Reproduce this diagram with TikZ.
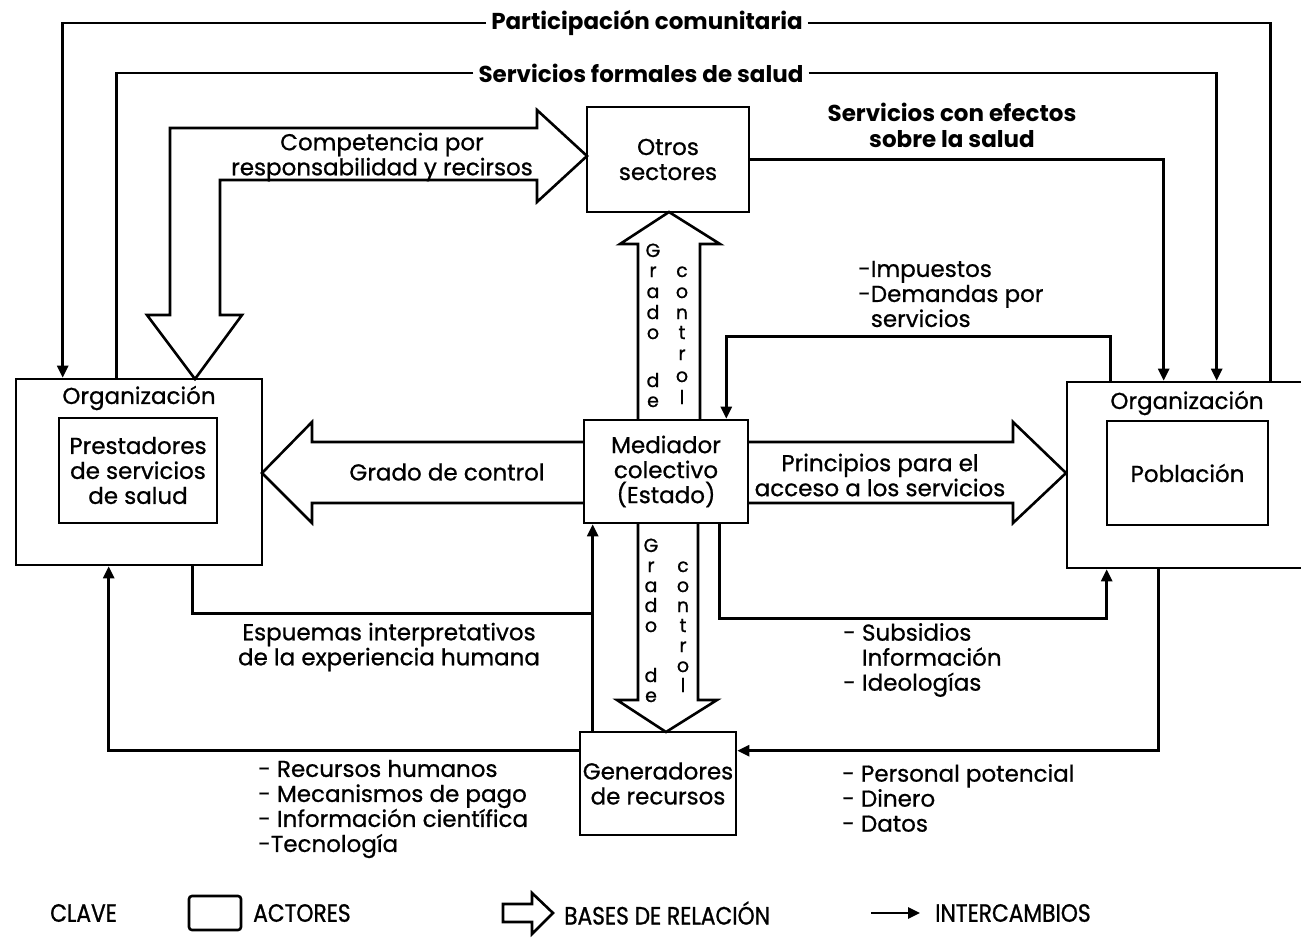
\documentclass[tikz,border=0pt]{standalone}
\usepackage{fontspec}
\setmainfont{Poppins}
\newfontfamily\bodyface{Poppins}[FakeBold=0.8]
\newfontfamily\keyfont{Poppins}[FakeStretch=0.87,FakeBold=1]
\usetikzlibrary{arrows.meta,calc,positioning}

\newcommand{\bodyfont}{\bodyface\fontsize{23}{25}\selectfont}
\newcommand{\headfont}{\fontsize{23}{26}\selectfont\bfseries}

\tikzset{
	actor/.style={draw,line width=2.6pt,rectangle,inner sep=0pt,align=center,font=\bodyfont},
	lbl/.style={inner sep=0pt,align=center,font=\bodyfont},
	letter/.style={inner sep=0pt,anchor=base,font=\bodyface\fontsize{19}{19}\selectfont},
	head/.style={inner xsep=5pt,inner ysep=0pt,font=\headfont,fill=white},
	fat/.style={draw,line width=2.6pt,fill=white,line join=miter},
	link/.style={line width=2.6pt},
	exch/.style={line width=2.6pt,-{Triangle[length=12pt,width=11pt]}},
	keytext/.style={anchor=west,inner sep=0pt,font=\keyfont\fontsize{25}{25}\selectfont},
}

\begin{document}
\begin{tikzpicture}[x=1pt,y=-1pt]
	\useasboundingbox (0,0) rectangle (1301,938);
	
	% Bases de relacion
	\draw[fat] (170,315) -- (147,315) -- (195,379) -- (242,315) -- (220,315) -- (220,180)
		-- (537,180) -- (537,202) -- (587,156) -- (537,110) -- (537,128) -- (170,128) -- cycle;
	\draw[fat] (638,420) -- (638,244) -- (620,244) -- (669,212) -- (720,244) -- (700,244) -- (700,420);
	\draw[fat] (638,523) -- (638,700) -- (617,700) -- (666,732) -- (717,700) -- (698,700) -- (698,523);
	\draw[fat] (584,442) -- (312,442) -- (312,422) -- (262,473) -- (312,523) -- (312,503) -- (584,503);
	\draw[fat] (748,442) -- (1013,442) -- (1013,422) -- (1066,473) -- (1013,523) -- (1013,503) -- (748,503);
	
	% Actores
	\node (orgP) at (139,472) [actor,minimum width=246pt,minimum height=186pt] {};
	\node (orgPtit) at (139,398) [lbl] {Organización};
	\node (prest) at (138,470.5) [actor,minimum width=158pt,minimum height=105pt] {Prestadores\\de servicios\\de salud};
	\node (otros) at (668,159.5) [actor,minimum width=162pt,minimum height=105pt] {Otros\\sectores};
	\node (med) at (666,471.5) [actor,minimum width=164pt,minimum height=103pt,fill=white] {Mediador\\colectivo\\(Estado)};
	\node (gen) at (658,783.5) [actor,minimum width=156pt,minimum height=103pt] {Generadores\\de recursos};
	\node (orgB) at (1188.5,475) [actor,minimum width=243pt,minimum height=186pt] {};
	\node (orgBtit) at (1187,403) [lbl] {Organización};
	\node (pob) at (1187.5,473) [actor,minimum width=161pt,minimum height=104pt] {Población};
	
	% Grado de control (vertical)
	\foreach \c/\yy [count=\i] in {G/251,r/271,a/292,d/313,o/333,d/381,e/401}
		\node (gu\i) at (653,\yy+6) [letter] {\c};
	\foreach \c/\yy [count=\i] in {c/271,o/292,n/313,t/333,r/354,o/376,l/398}
		\node (cu\i) at (682,\yy+6) [letter] {\c};
	\foreach \c/\yy [count=\i] in {G/546,r/566,a/586,d/606,o/626,d/676,e/696}
		\node (gd\i) at (651,\yy+6) [letter] {\c};
	\foreach \c/\yy [count=\i] in {c/566,o/586,n/606,t/626,r/646,o/666,l/686}
		\node (cd\i) at (683,\yy+6) [letter] {\c};
	
	% Textos
	\node (compet) at (382,157) [lbl] {Competencia por\\responsabilidad y recirsos};
	\node (gcontrol) at (447,472) [lbl] {Grado de control};
	\node (princ) at (880,475) [lbl] {Principios para el\\acceso a los servicios};
	\node (impu) at (858,294) [lbl,anchor=west,align=left] {-Impuestos\\-Demandas por\\\phantom{-}servicios};
	\node (espu) at (389,647) [lbl] {Espuemas interpretativos\\de la experiencia humana};
	\node (subs) at (843,660) [lbl,anchor=west,align=left] {- Subsidios\\\phantom{- }Información\\- Ideologías};
	\node (recu) at (258,809) [lbl,anchor=west,align=left] {- Recursos humanos\\- Mecanismos de pago\\- Información científica\\-Tecnología};
	\node (pers) at (842,798) [lbl,anchor=west,align=left] {- Personal potencial\\- Dinero\\- Datos};
	\node (sefec) at (952,125) [lbl,font=\headfont] {Servicios con efectos\\sobre la salud};
	
	% Intercambios
	\node (partic) at (647,23) [head] {Participación comunitaria};
	\draw[link] (partic.east) -| ($(orgB.north west)+(205,0)$);
	\draw[exch] (partic.west) -| ($(orgP.north west)+(48,0)$);
	
	\node (sform) at (641,73) [head] {Servicios formales de salud};
	\draw[link] (sform.west) -| ($(orgP.north west)+(102,0)$);
	\draw[exch] (sform.east) -| ($(orgB.north west)+(151,0)$);
	
	\draw[exch] (otros.east) -| ($(orgB.north west)+(98,0)$);
	\draw[exch] ($(orgB.north west)+(45,0)$) -- ++(0,-44) -| ($(med.north east)+(-23,0)$);
	
	\coordinate (jE) at ($(gen.north west)+(14,-117)$);
	\draw[link] ($(orgP.south west)+(178,0)$) |- (jE);
	\draw[exch] ($(gen.north west)+(14,0)$) -- ($(med.south west)+(10,0)$);
	\draw[exch] ($(med.south east)+(-30,0)$) -- ++(0,94) -| ($(orgB.south west)+(41,0)$);
	\draw[exch] ($(orgB.south west)+(93,0)$) |- ($(gen.north east)+(0,20)$);
	\draw[exch] ($(gen.north west)+(0,20)$) -| ($(orgP.south west)+(94,0)$);
	
	% Clave
	\node (clave) at (50,913) [keytext] {CLAVE};
	\node (kbox) at (215,913) [draw,line width=2.6pt,rounded corners=3pt,minimum width=52pt,minimum height=34pt] {};
	\node (kact) at (253,913) [keytext] {ACTORES};
	\draw[fat] (503,904) -- (532,904) -- (532,893) -- (553,913) -- (532,934) -- (532,922) -- (503,922) -- cycle;
	\node (kbas) at (564,913) [keytext] {BASES DE RELACIÓN};
	\coordinate (kfrom) at (871,913);
	\coordinate (kto) at (920,913);
	\node (kint) at (935,913) [keytext] {INTERCAMBIOS};
	\draw[exch] (kfrom) -- (kto);
	
\end{tikzpicture}
\end{document}
